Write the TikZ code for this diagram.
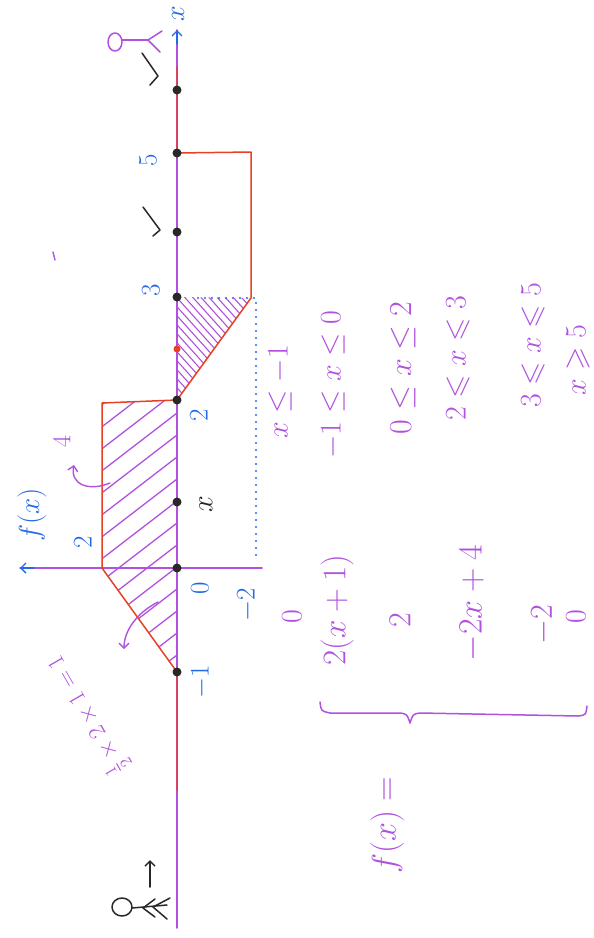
\RequirePackage{fix-cm}
\documentclass[tikz,border=0pt]{standalone}
\usepackage{amssymb}
\usetikzlibrary{arrows.meta}
\definecolor{penpurple}{RGB}{176,82,222}
\definecolor{penred}{RGB}{232,64,36}
\definecolor{penblue}{RGB}{36,104,230}
\definecolor{penblack}{RGB}{40,40,40}
\begin{document}
\begin{tikzpicture}[x=1pt,y=-1pt,line cap=round,line join=round,
  axisline/.style={penpurple,line width=1.6pt},
  graphline/.style={penred,line width=1.5pt},
  hatchline/.style={penpurple,line width=1.3pt},
  inkline/.style={penblack,line width=1.5pt},
  barb/.style={-{Straight Barb[length=5pt,width=10pt]}},
  axlabel/.style={penblue,rotate=90,inner sep=0pt,font=\fontsize{27}{27}\selectfont},
  formula/.style={penpurple,rotate=90,inner sep=0pt,font=\fontsize{30}{30}\selectfont},
  axisdot/.style={circle,fill=penblack,inner sep=0pt,minimum size=9pt}]
  \useasboundingbox (0,0) rectangle (594,938);

  % x-axis points
  \coordinate (O) at (177,568);
  \coordinate (Xm1) at (177,672);
  \coordinate (X2) at (177,400);
  \coordinate (X3) at (177,297);
  \coordinate (X5) at (177,153);
  \coordinate (Xbot) at (177,928);
  \coordinate (Xtop) at (177,30);
  \coordinate (Fr) at (262,568);
  \coordinate (Fl) at (20,568);

  % corners of the graph
  \coordinate (A) at (102,568);
  \coordinate (B) at (102,403);
  \coordinate (C) at (251,298);
  \coordinate (D) at (251,152);
  \coordinate (Rlow) at (177,790);
  \coordinate (Rtop) at (177,67);

  % Hatched regions
  \begin{scope}
    \clip (Xm1) -- (A) -- (B) -- (X2) -- cycle;
    \foreach \t in {392,414,...,800}
      \draw[hatchline] (90,\t) -- (190,\t-77);
  \end{scope}
  \begin{scope}
    \clip (X2) -- (C) -- (X3) -- cycle;
    \foreach \t in {200,209,...,420}
      \draw[hatchline,line width=1.1pt] (170,\t) -- (260,\t+100);
  \end{scope}

  % Axes
  \draw[axisline] (Xbot) -- (Xtop);
  \draw[axisline] (Fr) -- (Fl);
  \draw[penblue,line width=1.4pt,barb] (177,44) -- (Xtop);
  \draw[penblue,line width=1.4pt,barb] (34,568) -- (Fl);

  % Dotted guide
  \draw[penblue,line width=2.2pt,dash pattern=on 0pt off 7pt] (198,298) -- (256,298) -- (256,560);

  % Graph of f
  \draw[graphline] (Rlow) -- (Xm1) -- (A) -- (B) -- (X2) -- (C) -- (D) -- (X5) -- (Rtop);

  % Points on the axis
  \foreach \n/\y in {p1/90,p2/153,p3/232,p4/297,p5/400,p6/502,p7/568,p8/672}
    \node[axisdot] (\n) at (177,\y) {};
  \node[axisdot,fill=penred,minimum size=7pt] (pr) at (177,349) {};

  % Axis labels
  \node[axlabel,font=\fontsize{28}{28}\selectfont] (lx) at (178,14) {$x$};
  \node[axlabel,font=\fontsize{29}{29}\selectfont] (lf) at (32,515) {$f(x)$};
  \node[axlabel] (l5) at (148,160) {$5$};
  \node[axlabel] (l3) at (151,290) {$3$};
  \node[axlabel] (l2) at (199,415) {$2$};
  \node[axlabel,penblack,font=\fontsize{30}{30}\selectfont] (lxx) at (206,504) {$x$};
  \node[axlabel] (l0) at (200,588) {$0$};
  \node[axlabel] (lm2) at (247,605) {$-2$};
  \node[axlabel] (lm1) at (201,682) {$-1$};
  \node[axlabel] (lf2) at (83,542) {$2$};

  % Notes on the areas
  \coordinate (a1s) at (110,483);
  \coordinate (a1e) at (74,465);
  \draw[penpurple,line width=1.4pt,barb] (a1s) .. controls (88,492) and (70,484) .. (a1e);
  \node[formula,font=\fontsize{26}{26}\selectfont] (four) at (62,442) {$4$};
  \coordinate (a2s) at (158,602);
  \coordinate (a2e) at (124,649);
  \draw[penpurple,line width=1.4pt,barb] (a2s) .. controls (138,612) and (124,630) .. (a2e);
  \node[formula,rotate=30,font=\fontsize{24}{24}\selectfont] (area) at (88,714) {$\frac{1}{2}\times2\times1=1$};
  \draw[penpurple,line width=1.4pt] (53,252) -- (55,260);

  % Check marks
  \draw[inkline] (142,53) -- (158,76) -- (150,85);
  \draw[inkline] (143,207) -- (160,230) -- (153,236);

  % Little figures
  \draw[penpurple,line width=1.5pt] (115,42) ellipse (7pt and 9pt);
  \draw[penpurple,line width=1.5pt] (122,40) -- (148,40);
  \draw[penpurple,line width=1.5pt] (162,31) -- (148,40) -- (160,52);
  \draw[inkline] (122,907) ellipse (10pt and 9pt);
  \draw[inkline] (132,908) -- (167,905);
  \draw[inkline] (155,899) -- (143,908) -- (155,917);
  \draw[inkline] (170,898) -- (153,907) -- (167,919);
  \draw[inkline,barb] (150,887) -- (150,860);

  % Piecewise definition
  \node[formula,font=\fontsize{34}{34}\selectfont] (fdef) at (387,825) {$f(x)=$};
  \draw[penpurple,line width=1.5pt] (320,702) .. controls (321,711) .. (330,713)
    -- (400,713) .. controls (407,714) .. (410,723) .. controls (413,714) .. (420,713)
    -- (578,716) .. controls (586,715) .. (587,706);
  \node[formula] (v1) at (292,617) {$0$};
  \node[formula] (c1) at (280,392) {$x\le -1$};
  \node[formula,font=\fontsize{33}{33}\selectfont] (v2) at (337,610) {$2(x+1)$};
  \node[formula] (c2) at (333,385) {$-1\le x\le 0$};
  \node[formula,font=\fontsize{32}{32}\selectfont] (v3) at (400,620) {$2$};
  \node[formula,font=\fontsize{32}{32}\selectfont] (c3) at (403,368) {$0\le x\le 2$};
  \node[formula,font=\fontsize{34}{34}\selectfont] (v4) at (472,603) {$-2x+4$};
  \node[formula] (c4) at (458,358) {$2\leqslant x\leqslant 3$};
  \node[formula,font=\fontsize{32}{32}\selectfont] (v5) at (543,625) {$-2$};
  \node[formula] (c5) at (533,345) {$3\leqslant x\leqslant 5$};
  \node[formula] (v6) at (576,617) {$0$};
  \node[formula] (c6) at (578,360) {$x\geqslant 5$};
\end{tikzpicture}
\end{document}
